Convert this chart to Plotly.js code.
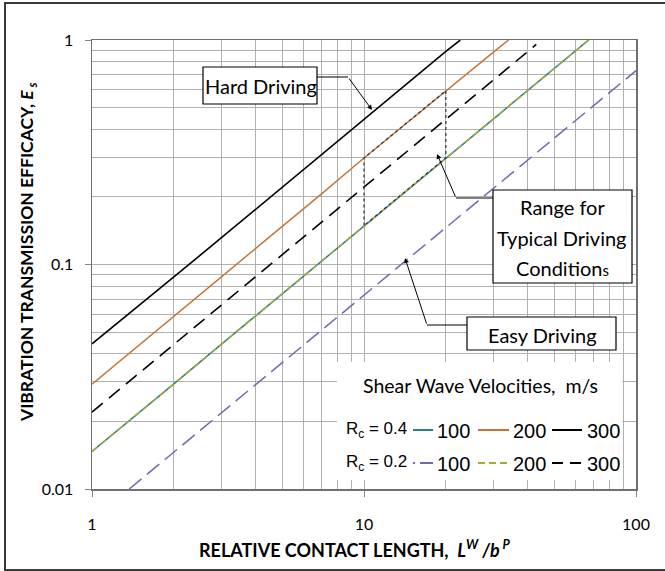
<!DOCTYPE html>
<html>
<head>
<meta charset="utf-8">
<script src="https://cdn.plot.ly/plotly-3.0.1.min.js"></script>
<style>
html,body{margin:0;padding:0;background:#fff;}
#chart{width:665px;height:571px;}
</style>
</head>
<body>
<div id="chart"></div>
<script>
// ---- data ----
const x_rc04_300 = [1, 1.5, 2, 3, 5, 7, 10, 15, 20, 22.6];
const y_rc04_300 = [0.0443, 0.066, 0.088, 0.132, 0.221, 0.31, 0.446, 0.665, 0.89, 1.0];

const x_rc04_200 = [1, 1.5, 2, 3, 5, 7, 10, 15, 20, 30, 34];
const y_rc04_200 = [0.0293, 0.044, 0.0585, 0.088, 0.147, 0.207, 0.298, 0.447, 0.595, 0.885, 1.0];

const x_rc04_100 = [1, 1.5, 2, 3, 5, 7, 10, 15, 20, 30, 50, 67];
const y_rc04_100 = [0.0147, 0.022, 0.0294, 0.0443, 0.074, 0.104, 0.149, 0.224, 0.299, 0.446, 0.745, 1.0];

const x_rc02_100 = [1.37, 2, 3, 5, 7, 10, 15, 20, 30, 50, 70, 100];
const y_rc02_100 = [0.01, 0.0146, 0.022, 0.0367, 0.0515, 0.0735, 0.110, 0.147, 0.221, 0.368, 0.515, 0.73];

const x_rc02_200 = [1, 1.5, 2, 3, 5, 7, 10, 15, 20, 30, 50, 67];
const y_rc02_200 = [0.0147, 0.022, 0.0294, 0.0443, 0.074, 0.104, 0.149, 0.224, 0.299, 0.446, 0.745, 1.0];

const x_rc02_300 = [1, 1.5, 2, 3, 5, 7, 10, 15, 20, 30, 43];
const y_rc02_300 = [0.022, 0.033, 0.044, 0.066, 0.11, 0.155, 0.222, 0.333, 0.444, 0.665, 0.955];

// range for typical driving conditions (dotted outline)
const x_range = [10, 10, 20, 20, 10];
const y_range = [0.149, 0.298, 0.595, 0.299, 0.149];

// ticks
const xTickVals = [1, 10, 100];
const xTickText = ["1", "10", "100"];
const yTickVals = [0.01, 0.1, 1];
const yTickText = ["0.01", "0.1", "1"];
const xMinor = [2,3,4,5,6,7,8,9,20,30,40,50,60,70,80,90];
const yMinor = [0.02,0.03,0.04,0.05,0.06,0.07,0.08,0.09,0.2,0.3,0.4,0.5,0.6,0.7,0.8,0.9];

// texts
const xTitle = "RELATIVE CONTACT LENGTH,  <i>L</i><sup><i>W</i></sup><i> /b</i><sup><i> P</i></sup>";
const yTitle = "VIBRATION TRANSMISSION EFFICACY, <i>E</i><i><sub> s</sub></i>";
const legendTitle = "Shear Wave Velocities,  m/s";
const rowLabels = ["R<sub>c</sub> = 0.4", "R<sub>c</sub> = 0.2"];
const velocityLabels = ["100", "200", "300"];
const hardText = "Hard Driving";
const rangeLines = ["Range for", "Typical Driving", "Condition<span style='font-size:15px'>s</span>"];
const easyText = "Easy Driving";

// ---- styles ----
const TEAL = "#2E7F80", ORANGE = "#C0763A", BLACK = "#000000", PURPLE = "#7468B0", OLIVE = "#A3A83A";
const styles = {
  rc04_100: {color: TEAL, width: 1.5, dash: "solid"},
  rc04_200: {color: ORANGE, width: 1.5, dash: "solid"},
  rc04_300: {color: BLACK, width: 1.6, dash: "solid"},
  rc02_100: {color: PURPLE, width: 1.5, dash: "16px,7px"},
  rc02_200: {color: OLIVE, width: 1.5, dash: "7px,4px"},
  rc02_300: {color: BLACK, width: 1.6, dash: "14px,8px"}
};

function tr(x, y, st, name) {
  return {x: x, y: y, type: "scatter", mode: "lines", name: name, line: st, hoverinfo: "skip"};
}

const traces = [
  tr(x_rc02_100, y_rc02_100, styles.rc02_100, "Rc=0.2 100"),
  tr(x_rc04_100, y_rc04_100, styles.rc04_100, "Rc=0.4 100"),
  tr(x_rc02_200, y_rc02_200, styles.rc02_200, "Rc=0.2 200"),
  tr(x_rc04_200, y_rc04_200, styles.rc04_200, "Rc=0.4 200"),
  tr(x_rc02_300, y_rc02_300, styles.rc02_300, "Rc=0.2 300"),
  tr(x_rc04_300, y_rc04_300, styles.rc04_300, "Rc=0.4 300"),
  {x: x_range, y: y_range, type: "scatter", mode: "lines", line: {color: "#333", width: 1.2, dash: "dot"}, hoverinfo: "skip"}
];

// plot box in pixels: left 92, right 636, top 40, bottom 489
const L = 92, R = 636, T = 40, B = 489;
const px = v => (v - L) / (R - L);
const py = v => (B - v) / (B - T);

const BOXFONT = {family: "Lato, 'Open Sans', sans-serif", size: 20, color: "#000"};
const shapes = [];
const annotations = [];

function txt(x, y, text, font, extra) {
  annotations.push(Object.assign({xref: "paper", yref: "paper", x: px(x), y: py(y), text: text,
    showarrow: false, xanchor: "center", yanchor: "middle", font: font}, extra || {}));
}
function rect(x0, x1, y0, y1, line, fill) {
  shapes.push({type: "rect", xref: "paper", yref: "paper", x0: px(x0), x1: px(x1), y0: py(y1), y1: py(y0),
    line: line, fillcolor: fill, layer: "above"});
}

// outer frame
rect(5, 672, 3, 570, {color: "#3a3a3a", width: 2}, "rgba(0,0,0,0)");
// legend background
rect(337, 622, 362, 480, {width: 0}, "#ffffff");

// callout boxes
rect(203, 317, 67, 104, {color: "#000", width: 1.2}, "#ffffff");
txt(261, 86, hardText, BOXFONT);
rect(493, 632, 190, 283, {color: "#000", width: 1.2}, "#ffffff");
const rangeY = [207, 238, 268];
for (let i = 0; i < rangeLines.length; i++) txt(562, rangeY[i], rangeLines[i], BOXFONT);
rect(467, 616, 317, 350, {color: "#000", width: 1.2}, "#ffffff");
txt(542, 334.5, easyText, BOXFONT);

// connectors: horizontal piece + diagonal arrow
function connector(xa, xb, yh, hx, hy) {
  shapes.push({type: "line", xref: "paper", yref: "paper", x0: px(xa), x1: px(xb), y0: py(yh), y1: py(yh),
    line: {color: "#000", width: 1}, layer: "above"});
  annotations.push({xref: "paper", yref: "paper", x: px(hx), y: py(hy), ax: xb - hx, ay: yh - hy, text: "",
    showarrow: true, arrowhead: 2, arrowsize: 1, arrowwidth: 1, arrowcolor: "#000"});
}
connector(317, 348, 77, 372, 110);
connector(493, 456, 198, 437, 154);
connector(467, 427, 325, 405, 258);

// manual legend
const LEGFONT = {family: "'Liberation Sans', Arial, sans-serif", size: 20, color: "#000"};
txt(480, 385, legendTitle, {family: "Lato, sans-serif", size: 19.5, color: "#000"});
const rowY = [430, 463];
const sampleX = [[413, 433], [478, 509], [552, 582]];
const numX = [435, 511, 585];
const rowStyles = [[styles.rc04_100, styles.rc04_200, styles.rc04_300], [styles.rc02_100, styles.rc02_200, styles.rc02_300]];
for (let r = 0; r < 2; r++) {
  txt(344, rowY[r], rowLabels[r], {family: "'Liberation Sans', Arial, sans-serif", size: 17, color: "#000"}, {xanchor: "left"});
  for (let c = 0; c < 3; c++) {
    const st = rowStyles[r][c];
    let dash = st.dash;
    if (r === 1 && c === 0) dash = "2px,5px,14px";
    if (r === 1 && c === 1) dash = "7px,4px";
    if (r === 1 && c === 2) dash = "11px,7px";
    shapes.push({type: "line", xref: "paper", yref: "paper", x0: px(sampleX[c][0]), x1: px(sampleX[c][1]),
      y0: py(rowY[r]), y1: py(rowY[r]), line: {color: st.color, width: 2, dash: dash}, layer: "above"});
    txt(numX[c], rowY[r] + 1, velocityLabels[c], LEGFONT, {xanchor: "left"});
  }
}

// axis titles
const TITLEFONT = {family: "Lato, sans-serif", size: 17.5, color: "#000", weight: "bold"};
txt(354, 549, xTitle, Object.assign({}, TITLEFONT, {size: 18}));
txt(28, 253, yTitle, TITLEFONT, {textangle: -90});

const TICKFONT = {family: "Lato, sans-serif", size: 16, color: "#000"};
const GRID = "#b0b0b0";
const layout = {
  width: 665, height: 571,
  margin: {l: L, r: 665 - R, t: T, b: 571 - B, pad: 0},
  paper_bgcolor: "#fff", plot_bgcolor: "#fff",
  showlegend: false,
  xaxis: {
    type: "log", range: [0, 2],
    tickmode: "array", tickvals: xTickVals, ticktext: xTickText,
    ticks: "outside", ticklen: 6, tickcolor: "#888", tickfont: TICKFONT, ticklabelstandoff: 14,
    showgrid: true, gridcolor: GRID, gridwidth: 1,
    minor: {tickmode: "array", tickvals: xMinor, showgrid: true, gridcolor: GRID, gridwidth: 1, ticks: ""},
    showline: true, mirror: true, linecolor: "#707070", linewidth: 1.5, zeroline: false
  },
  yaxis: {
    type: "log", range: [-2, 0],
    tickmode: "array", tickvals: yTickVals, ticktext: yTickText,
    ticks: "outside", ticklen: 6, tickcolor: "#888", tickfont: TICKFONT, ticklabelstandoff: 8,
    showgrid: true, gridcolor: GRID, gridwidth: 1,
    minor: {tickmode: "array", tickvals: yMinor, showgrid: true, gridcolor: GRID, gridwidth: 1, ticks: ""},
    showline: true, mirror: true, linecolor: "#707070", linewidth: 1.5, zeroline: false
  },
  shapes: shapes,
  annotations: annotations
};

Plotly.newPlot("chart", traces, layout, {displayModeBar: false, staticPlot: true});
</script>
</body>
</html>
